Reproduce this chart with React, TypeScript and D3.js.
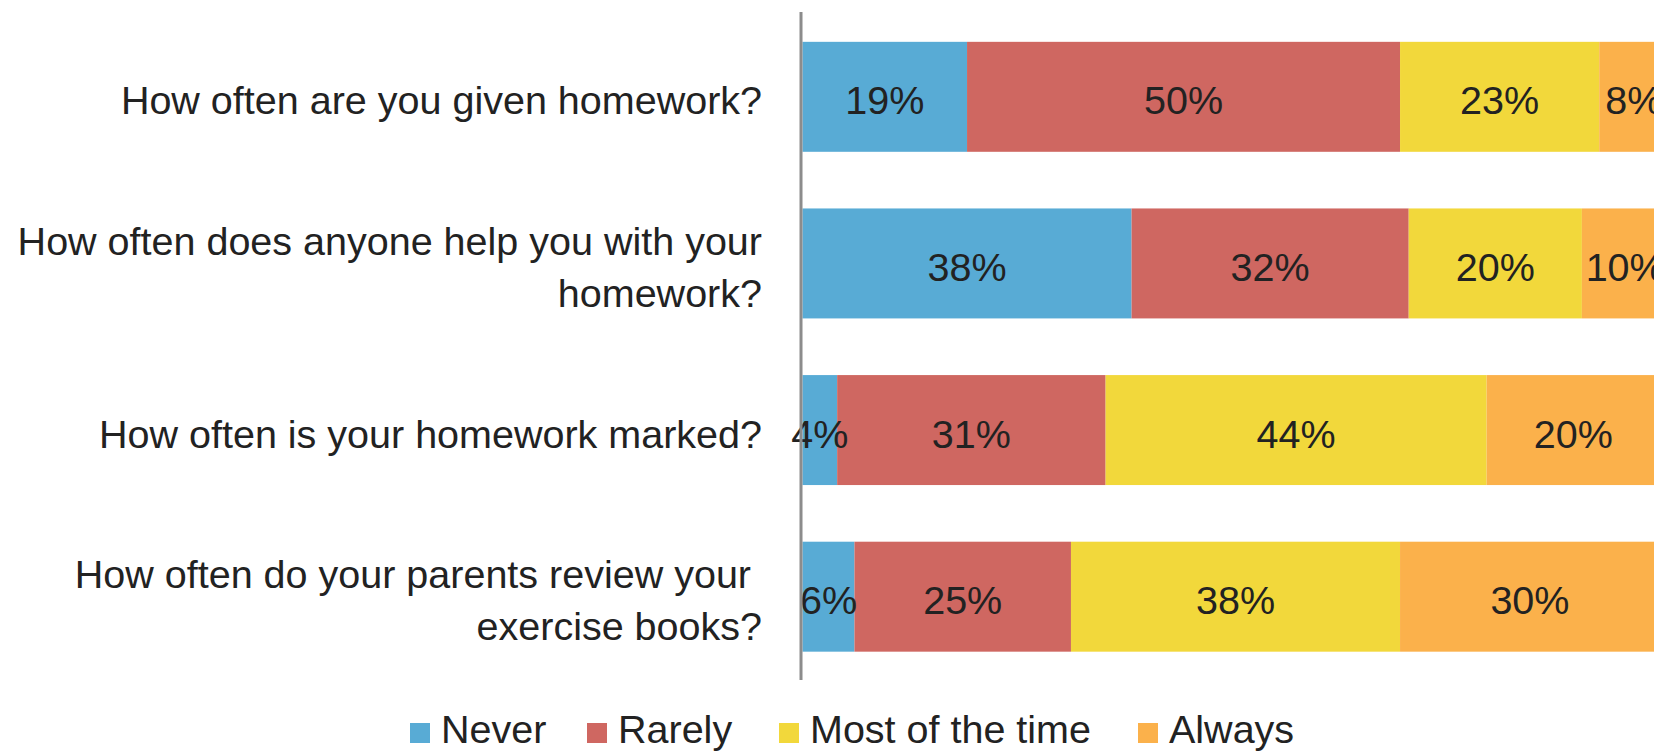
import React from "react";
import * as d3 from "d3";

// ---- data ----
const questions: string[][] = [
  ["How often are you given homework?"],
  ["How often does anyone help you with your", "homework?"],
  ["How often is your homework marked?"],
  ["How often do your parents review your ", "exercise books?"],
];
const seriesNames = ["Never", "Rarely", "Most of the time", "Always"];
const never = [19, 38, 4, 6];
const rarely = [50, 32, 31, 25];
const mostOfTheTime = [23, 20, 44, 38];
const always = [8, 10, 20, 30];
const seriesColors = ["#58abd5", "#cf6761", "#f2d83b", "#fbb14b"];

const W = 1654;
const H = 751;
const FONT = "'Liberation Sans', Arial, sans-serif";
const FS = 39.5;
const TEXT = "#222222";

export default function App() {
  const seriesValues = [never, rarely, mostOfTheTime, always];
  const rows = questions.map((q, i) => {
    const row: any = { id: String(i) };
    seriesNames.forEach((s, j) => (row[s] = seriesValues[j][i]));
    return row;
  });
  const stacked = d3.stack<any>().keys(seriesNames)(rows);

  const x = d3.scaleLinear().domain([0, 100]).range([802.5, 1668.5]);
  const y = d3
    .scaleBand<string>()
    .domain(rows.map((r) => r.id))
    .range([13.5, 680])
    .paddingInner(0.34)
    .paddingOuter(0.17);
  const bw = y.bandwidth();

  const legendX = [410, 587, 779, 1138];

  return (
    <svg
      width={W}
      height={H}
      style={{ position: "absolute", left: 0, top: 0, background: "#fff" }}
      fontFamily={FONT}
    >
      <rect x={0} y={0} width={W} height={H} fill="#fff" />
      {stacked.map((layer, si) => (
        <g key={layer.key}>
          {layer.map((d, i) => (
            <rect
              key={i}
              x={x(d[0])}
              y={y(rows[i].id)!}
              width={x(d[1]) - x(d[0])}
              height={bw}
              fill={seriesColors[si]}
            />
          ))}
        </g>
      ))}
      {stacked.map((layer, si) => (
        <g key={"l" + layer.key}>
          {layer.map((d, i) => (
            <text
              key={i}
              x={(x(d[0]) + x(d[1])) / 2}
              y={y(rows[i].id)! + bw / 2 + 17.5}
              textAnchor="middle"
              fontSize={FS}
              fill={TEXT}
            >
              {d[1] - d[0] + "%"}
            </text>
          ))}
        </g>
      ))}
      <line x1={801} x2={801} y1={12} y2={680} stroke="#8c8c8c" strokeWidth={3} />
      {questions.map((lines, i) => {
        const cy = y(String(i))! + bw / 2;
        const start = cy + 17.5 - ((lines.length - 1) * 52) / 2;
        return (
          <text
            key={i}
            textAnchor="end"
            fontSize={FS}
            fill={TEXT}
            style={{ whiteSpace: "pre" }}
          >
            {lines.map((ln, k) => (
              <tspan key={k} x={762} y={start + k * 52}>
                {ln}
              </tspan>
            ))}
          </text>
        );
      })}
      {seriesNames.map((s, i) => (
        <g key={s} transform={`translate(${legendX[i]},0)`}>
          <rect x={0} y={723} width={20} height={20} fill={seriesColors[i]} />
          <text x={31} y={743} fontSize={FS} fill={TEXT}>
            {s}
          </text>
        </g>
      ))}
    </svg>
  );
}
